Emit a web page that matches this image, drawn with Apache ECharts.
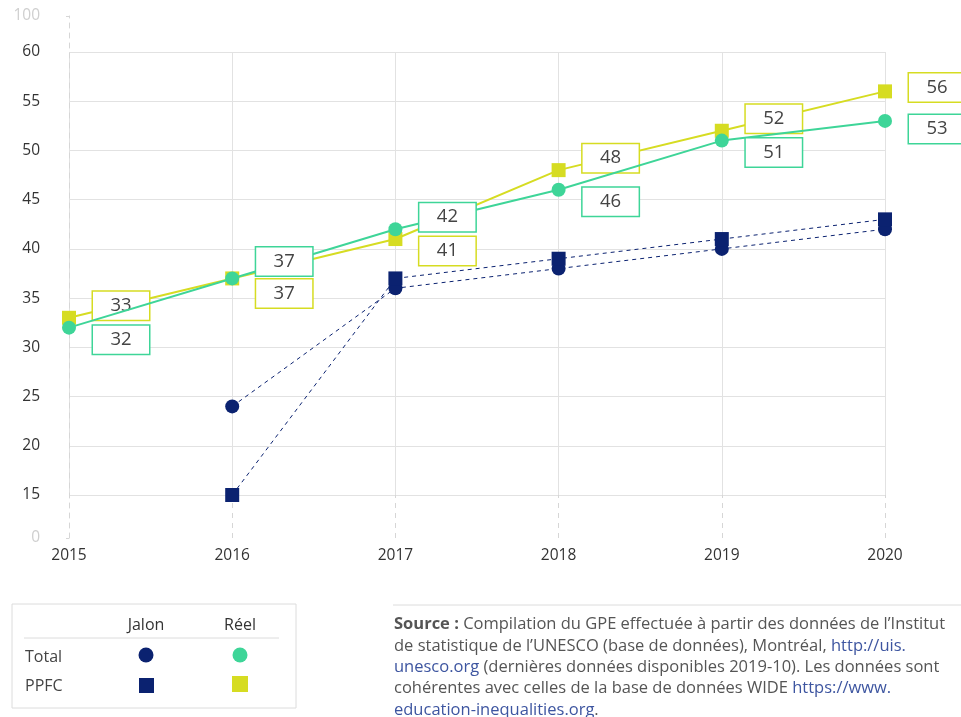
<!DOCTYPE html>
<html>
<head>
<meta charset="utf-8">
<script src="https://cdn.jsdelivr.net/npm/echarts@6/dist/echarts.min.js"></script>
<style>
  html, body { margin: 0; padding: 0; background: #fff; }
  #chart { width: 961px; height: 717px; }
</style>
</head>
<body>
<div id="chart"></div>
<script>
// données
var years = ['2015', '2016', '2017', '2018', '2019', '2020']
var totalReel = [32, 37, 42, 46, 51, 53]
var ppfcReel = [33, 37, 41, 48, 52, 56]
var totalJalon = [null, 24, 36, 38, 40, 42]
var ppfcJalon = [null, 15, 37, 39, 41, 43]
var breakLabels = [0, 100]

var NAVY = '#0b2270'
var GREEN = '#3ed598'
var YELLOW = '#d6dc22'
var FONT = 'Open Sans'

// étiquette au-dessus pour la série la plus haute, en dessous pour l'autre
function reelData(values, other, isGreen, color) {
  return values.map(function (v, i) {
    var above = isGreen ? v >= other[i] : v > other[i]
    var tie = v === other[i]
    var last = i === values.length - 1
    var dy
    if (last) dy = above ? -4 : 8
    else if (above) dy = tie ? -17 : -12
    else dy = tie ? 15 : 12
    return {
      value: v,
      label: {
        verticalAlign: 'middle',
        offset: [52, dy],
        borderColor: color
      }
    }
  })
}

var labelStyle = {
  show: true,
  position: 'inside',
  align: 'center',
  width: 56,
  height: 28,
  lineHeight: 28,
  fontSize: 18.5,
  color: '#444',
  fontFamily: FONT,
  backgroundColor: '#fff',
  borderWidth: 1.5
}

var chart = echarts.init(document.getElementById('chart'))
chart.setOption({
  animation: false,
  textStyle: { fontFamily: FONT },
  grid: [
    { left: 69, right: 76, top: 52, bottom: 222 },
    { left: 69, right: 76, top: 16, bottom: 179 }
  ],
  xAxis: [
    {
      gridIndex: 0,
      type: 'category',
      data: years,
      boundaryGap: false,
      axisLine: { show: false },
      axisTick: { show: false },
      axisLabel: { show: false },
      splitLine: { show: true, lineStyle: { color: '#e2e2e2', width: 1 } }
    },
    {
      gridIndex: 1,
      type: 'category',
      data: years,
      boundaryGap: false,
      axisLine: { show: false },
      axisTick: { show: true, inside: true, length: 43, lineStyle: { color: '#d6d6d6', type: [5, 5] } },
      axisLabel: { fontSize: 15.5, color: '#333', margin: 10 },
      splitLine: { show: false }
    }
  ],
  yAxis: [
    {
      gridIndex: 0,
      type: 'value',
      min: 15,
      max: 60,
      interval: 5,
      axisLine: { show: false },
      axisTick: { show: false },
      axisLabel: { fontSize: 15.5, color: '#333', margin: 29 },
      splitLine: { lineStyle: { color: '#e2e2e2', width: 1 } }
    },
    {
      gridIndex: 1,
      type: 'value',
      min: breakLabels[0],
      max: breakLabels[1],
      interval: breakLabels[1] - breakLabels[0],
      axisLine: { show: true, lineStyle: { color: '#d6d6d6', type: [5, 5] } },
      axisTick: { show: true, length: 3, lineStyle: { color: '#d6d6d6' } },
      axisLabel: { fontSize: 15.5, color: '#cfcfcf', margin: 29 },
      splitLine: { show: false }
    }
  ],
  series: [
    {
      name: 'Total Jalon',
      type: 'line',
      data: totalJalon,
      symbol: 'circle',
      symbolSize: 14,
      itemStyle: { color: NAVY },
      lineStyle: { color: NAVY, width: 1, type: [4, 4] }
    },
    {
      name: 'PPFC Jalon',
      type: 'line',
      data: ppfcJalon,
      symbol: 'rect',
      symbolSize: 14,
      itemStyle: { color: NAVY },
      lineStyle: { color: NAVY, width: 1, type: [4, 4] }
    },
    {
      name: 'PPFC Réel',
      type: 'line',
      data: reelData(ppfcReel, totalReel, false, YELLOW),
      symbol: 'rect',
      symbolSize: 14,
      itemStyle: { color: YELLOW },
      lineStyle: { color: YELLOW, width: 2 },
      label: labelStyle,
      z: 3
    },
    {
      name: 'Total Réel',
      type: 'line',
      data: reelData(totalReel, ppfcReel, true, GREEN),
      symbol: 'circle',
      symbolSize: 14,
      itemStyle: { color: GREEN },
      lineStyle: { color: GREEN, width: 2 },
      label: labelStyle,
      z: 4
    }
  ],
  graphic: [
    // tableau de légende
    { type: 'rect', shape: { x: 12, y: 604, width: 284, height: 104 }, style: { fill: 'none', stroke: '#dcdcdc', lineWidth: 1 } },
    { type: 'text', x: 146, y: 625, style: { text: 'Jalon', fontSize: 16, fill: '#333', fontFamily: FONT, align: 'center', verticalAlign: 'middle' } },
    { type: 'text', x: 240, y: 625, style: { text: 'Réel', fontSize: 16, fill: '#333', fontFamily: FONT, align: 'center', verticalAlign: 'middle' } },
    { type: 'line', shape: { x1: 24, y1: 638, x2: 279, y2: 638 }, style: { stroke: '#dcdcdc', lineWidth: 1 } },
    { type: 'text', x: 25, y: 657, style: { text: 'Total', fontSize: 16, fill: '#444', fontFamily: FONT, verticalAlign: 'middle' } },
    { type: 'text', x: 25, y: 686, style: { text: 'PPFC', fontSize: 16, fill: '#444', fontFamily: FONT, verticalAlign: 'middle' } },
    { type: 'circle', shape: { cx: 146, cy: 655, r: 7.5 }, style: { fill: NAVY } },
    { type: 'circle', shape: { cx: 240, cy: 655, r: 7.5 }, style: { fill: GREEN } },
    { type: 'rect', shape: { x: 139, y: 678, width: 15, height: 15 }, style: { fill: NAVY } },
    { type: 'rect', shape: { x: 232, y: 676, width: 16, height: 16 }, style: { fill: YELLOW } },
    // source
    { type: 'line', shape: { x1: 393, y1: 605, x2: 961, y2: 605 }, style: { stroke: '#dcdcdc', lineWidth: 1 } },
    {
      type: 'text',
      x: 394,
      y: 614,
      style: {
        text: '{b|Source :} Compilation du GPE effectuée à partir des données de l’Institut\n' +
          'de statistique de l’UNESCO (base de données), Montréal, {a|http://uis.}\n' +
          '{a|unesco.org} (dernières données disponibles 2019-10). Les données sont\n' +
          'cohérentes avec celles de la base de données WIDE {a|https://www.}\n' +
          '{a|education-inequalities.org}.',
        fontSize: 16.5,
        lineHeight: 21.3,
        fill: '#555',
        fontFamily: FONT,
        rich: {
          b: { fontWeight: 'bold', fontSize: 16.5, fill: '#555', fontFamily: FONT, lineHeight: 21.3 },
          a: { fill: '#3d55a0', fontSize: 16.5, fontFamily: FONT, lineHeight: 21.3 }
        }
      }
    }
  ]
})
</script>
</body>
</html>
